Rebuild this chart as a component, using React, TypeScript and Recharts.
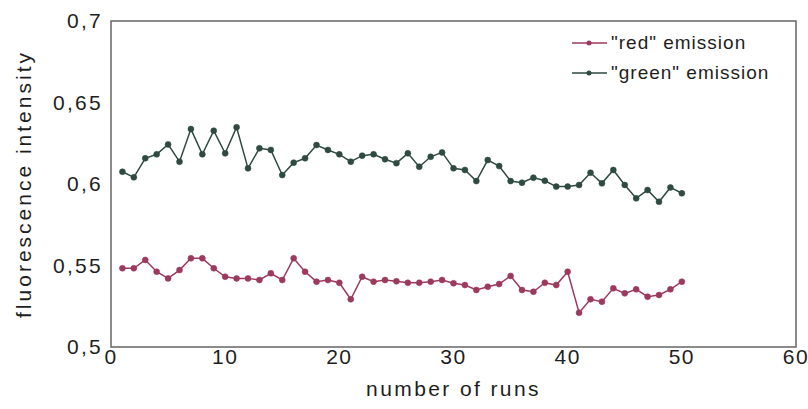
import { LineChart, Line, XAxis, YAxis, ReferenceArea } from 'recharts';

const runs = Array.from({ length: 50 }, (_, i) => i + 1);

const redEmission = [
  0.5483, 0.5483, 0.5534, 0.5462, 0.5421, 0.5472, 0.5544, 0.5544, 0.5483, 0.5431,
  0.5421, 0.5421, 0.5411, 0.5452, 0.5411, 0.5544, 0.5462, 0.5401, 0.5411, 0.5394,
  0.5293, 0.5431, 0.5401, 0.5411, 0.5403, 0.5394, 0.5394, 0.5401, 0.5411, 0.5391,
  0.538, 0.535, 0.537, 0.5386, 0.5436, 0.535, 0.5339, 0.5394, 0.538, 0.5462,
  0.521, 0.5293, 0.5278, 0.536, 0.5329, 0.5354, 0.5309, 0.5319, 0.5354, 0.5401,
];

const greenEmission = [
  0.6075, 0.6041, 0.6158, 0.6182, 0.6243, 0.6137, 0.6337, 0.6182, 0.6327, 0.6188,
  0.6348, 0.6096, 0.6219, 0.6209, 0.6055, 0.6131, 0.6158, 0.6239, 0.6209, 0.6182,
  0.6137, 0.6174, 0.6182, 0.6152, 0.6128, 0.6188, 0.6106, 0.6167, 0.6194, 0.6096,
  0.6086, 0.6018, 0.6147, 0.611, 0.6018, 0.6008, 0.6039, 0.602, 0.5984, 0.5984,
  0.5994, 0.6069, 0.6004, 0.6086, 0.5994, 0.5912, 0.5963, 0.5891, 0.5979, 0.5943,
];

const xTicks = [0, 10, 20, 30, 40, 50, 60];
const yTicks = [0.5, 0.55, 0.6, 0.65, 0.7];

const RED = '#9c3a5b';
const GREEN = '#2f4a40';
const TEXT = '#1e1e1e';
const FRAME = '#666';
const FONT = '"Liberation Sans", Arial, sans-serif';

const data = runs.map((run, i) => ({
  run,
  red: redEmission[i],
  green: greenEmission[i],
}));

const XTick = ({ x, y, payload }: any) => (
  <text x={x} y={y} dy={15} textAnchor="middle" fill={TEXT}
    fontSize={21} fontFamily={FONT} style={{ letterSpacing: 1.5 }}>
    {payload.value}
  </text>
);

const YTick = ({ x, y, payload }: any) => (
  <text x={x - 6} y={y} dy={7} textAnchor="end" fill={TEXT}
    fontSize={21} fontFamily={FONT} style={{ letterSpacing: 2.3 }}>
    {String(payload.value).replace('.', ',')}
  </text>
);

const legendItems = [
  { label: '"red" emission', color: RED },
  { label: '"green" emission', color: GREEN },
];

// legend drawn as an overlay so it doesn't eat plot space
const LegendBox = () => (
  <div style={{ position: 'absolute', left: 571, top: 28, fontFamily: FONT }}>
    {legendItems.map((it) => (
      <div key={it.label} style={{ display: 'flex', alignItems: 'center', height: 30 }}>
        <svg width={38} height={10}>
          <line x1={1} y1={5} x2={36} y2={5} stroke={it.color} strokeWidth={1.5} />
          <circle cx={18} cy={5} r={2.5} fill={it.color} />
        </svg>
        <span style={{ fontSize: 19, color: TEXT, letterSpacing: 1, marginLeft: 2 }}>{it.label}</span>
      </div>
    ))}
  </div>
);

export default function App() {
  return (
    <div style={{ position: 'absolute', left: 0, top: 0, width: 808, height: 409, background: '#fff' }}>
      <LineChart width={808} height={409} data={data}
        margin={{ top: 21, right: 12, bottom: 0, left: 0 }}>
        <XAxis dataKey="run" type="number" domain={[0, 60]} ticks={xTicks}
          tick={<XTick />} tickLine={false} tickSize={0} height={62}
          axisLine={false}
          label={{ value: 'number of runs', position: 'insideBottom', offset: 13,
            style: { fontSize: 21, fill: TEXT, fontFamily: FONT, letterSpacing: 2.4 } }} />
        <YAxis type="number" domain={[0.5, 0.7]} ticks={yTicks} tick={<YTick />}
          tickLine={false} tickSize={0} width={111} interval={0}
          axisLine={false}
          label={{ value: 'fluorescence intensity', angle: -90, position: 'insideLeft', offset: 24,
            style: { textAnchor: 'middle', fontSize: 21, fill: TEXT, fontFamily: FONT, letterSpacing: 3 } }} />
        <ReferenceArea x1={0} x2={60} y1={0.5} y2={0.7} fill="none"
          stroke={FRAME} strokeWidth={1.5} />
        <Line dataKey="red" stroke={RED} strokeWidth={1.5} isAnimationActive={false}
          dot={{ r: 3, fill: RED, stroke: RED, strokeWidth: 0.5 }} activeDot={false} />
        <Line dataKey="green" stroke={GREEN} strokeWidth={1.5} isAnimationActive={false}
          dot={{ r: 3, fill: GREEN, stroke: GREEN, strokeWidth: 0.5 }} activeDot={false} />
      </LineChart>
      <LegendBox />
    </div>
  );
}
